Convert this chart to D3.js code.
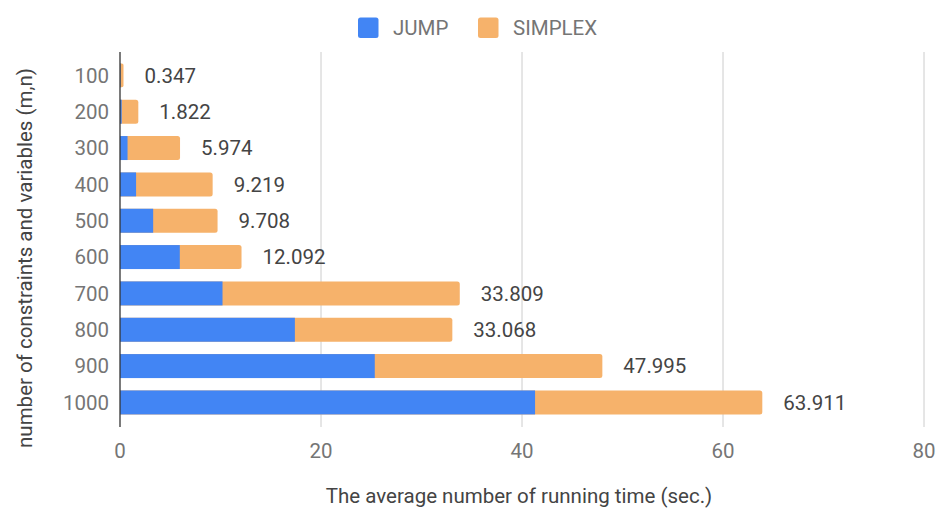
<!DOCTYPE html>
<html><head><meta charset="utf-8">
<script src="https://cdn.jsdelivr.net/npm/d3@7"></script>
<style>body{margin:0;background:#fff}svg{display:block;font-family:Roboto,"Noto Sans",sans-serif}</style>
</head><body><svg id="c" width="939" height="515"></svg>
<script>
const categories = ["100","200","300","400","500","600","700","800","900","1000"];
const jump = [0.05, 0.17, 0.75, 1.6, 3.3, 5.95, 10.2, 17.4, 25.35, 41.3];
const simplex = [0.347, 1.822, 5.974, 9.219, 9.708, 12.092, 33.809, 33.068, 47.995, 63.911];
const xTicks = [0, 20, 40, 60, 80];
const seriesNames = ["JUMP", "SIMPLEX"];
const colors = ["#4285F4", "#F6B26B"];

const svg = d3.select("#c");
const x = d3.scaleLinear().domain([0, 80]).range([120, 924]);
const y = d3.scaleBand().domain(categories).range([57.2, 420.6]).paddingInner(0.34).paddingOuter(0.17);
const gTop = 52, gBot = 427;
const fs = 20.5;

// gridlines
svg.append("g").selectAll("line").data(xTicks.filter(d => d > 0)).join("line")
  .attr("x1", d => x(d)).attr("x2", d => x(d)).attr("y1", gTop).attr("y2", gBot)
  .attr("stroke", "#cccccc").attr("stroke-width", 1);

// x tick labels
svg.append("g").selectAll("text").data(xTicks).join("text")
  .attr("x", d => x(d)).attr("y", 458).attr("text-anchor", "middle")
  .attr("fill", "#757575").attr("font-size", fs).text(d => d);

function rightRounded(x0, x1, yt, h, r) {
  r = Math.min(r, (x1 - x0) / 2);
  return `M${x0},${yt}H${x1 - r}Q${x1},${yt} ${x1},${yt + r}V${yt + h - r}Q${x1},${yt + h} ${x1 - r},${yt + h}H${x0}Z`;
}

// simplex bars (behind)
svg.append("g").selectAll("path").data(categories).join("path")
  .attr("d", (c, i) => rightRounded(x(0), x(simplex[i]), y(c), y.bandwidth(), 2.5))
  .attr("fill", colors[1]);
// jump bars
svg.append("g").selectAll("rect").data(categories).join("rect")
  .attr("x", x(0)).attr("y", c => y(c)).attr("height", y.bandwidth())
  .attr("width", (c, i) => x(jump[i]) - x(0)).attr("fill", colors[0]);

// value labels
svg.append("g").selectAll("text").data(categories).join("text")
  .attr("x", (c, i) => x(simplex[i]) + 21).attr("y", c => y(c) + y.bandwidth() / 2)
  .attr("dy", "0.36em").attr("fill", "#444444").attr("font-size", fs)
  .text((c, i) => simplex[i].toFixed(3));

// y tick labels
svg.append("g").selectAll("text").data(categories).join("text")
  .attr("x", 109).attr("y", c => y(c) + y.bandwidth() / 2).attr("dy", "0.36em")
  .attr("text-anchor", "end").attr("fill", "#757575").attr("font-size", fs).text(c => c);

// axis line
svg.append("line").attr("x1", x(0)).attr("x2", x(0)).attr("y1", gTop).attr("y2", gBot)
  .attr("stroke", "#333").attr("stroke-width", 1.3);

// axis titles
svg.append("text").attr("x", 519).attr("y", 503).attr("text-anchor", "middle")
  .attr("fill", "#444").attr("font-size", fs).text("The average number of running time (sec.)");
svg.append("text").attr("transform", "translate(32,258) rotate(-90)").attr("text-anchor", "middle")
  .attr("fill", "#444").attr("font-size", fs).text("number of constraints and variables (m,n)");

// legend
const leg = svg.append("g");
const legX = [358, 478];
seriesNames.forEach((n, i) => {
  leg.append("rect").attr("x", legX[i]).attr("y", 17.5).attr("width", 20.5).attr("height", 20.5)
    .attr("rx", 2.5).attr("fill", colors[i]);
  leg.append("text").attr("x", legX[i] + 35).attr("y", 28).attr("dy", "0.36em")
    .attr("fill", "#757575").attr("font-size", fs).text(n);
});
</script></body></html>
